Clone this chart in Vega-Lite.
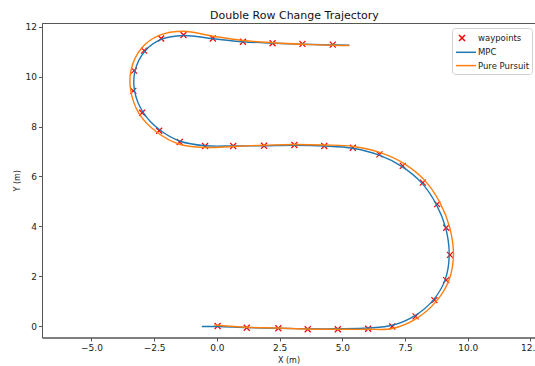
{
  "$schema": "https://vega.github.io/schema/vega-lite/v6.json",
  "width": 493,
  "height": 314.5,
  "autosize": {"type": "none"},
  "padding": {"left": 42, "top": 23, "right": 0, "bottom": 28.5},
  "background": "white",
  "title": {"text": "Double Row Change Trajectory", "font": "DejaVu Sans", "fontSize": 11, "fontWeight": "normal", "color": "#111", "anchor": "middle", "baseline": "alphabetic", "offset": -7, "dx": 6},
  "config": {
    "view": {"stroke": "#555", "strokeWidth": 1},
    "axis": {"grid": false, "labelFont": "DejaVu Sans", "labelFontSize": 9, "labelColor": "#222", "titleFont": "DejaVu Sans", "titleFontSize": 8, "titleFontWeight": "normal", "titleColor": "#222", "domainColor": "#555", "tickColor": "#555", "tickSize": 3.5, "labelPadding": 2, "titlePadding": 4}
  },
  "datasets": {
    "wp": [
      {"x": 0.03, "y": 0.0}, {"x": 1.19, "y": -0.07}, {"x": 2.45, "y": -0.09}, {"x": 3.62, "y": -0.13}, {"x": 4.82, "y": -0.13},
      {"x": 6.03, "y": -0.11}, {"x": 6.99, "y": -0.02}, {"x": 7.92, "y": 0.39}, {"x": 8.67, "y": 1.04}, {"x": 9.14, "y": 1.84},
      {"x": 9.29, "y": 2.85}, {"x": 9.14, "y": 3.94}, {"x": 8.78, "y": 4.89}, {"x": 8.21, "y": 5.75}, {"x": 7.41, "y": 6.42},
      {"x": 6.48, "y": 6.88}, {"x": 5.42, "y": 7.15}, {"x": 4.28, "y": 7.22}, {"x": 3.09, "y": 7.26}, {"x": 1.88, "y": 7.23},
      {"x": 0.65, "y": 7.22}, {"x": -0.47, "y": 7.22}, {"x": -1.48, "y": 7.38}, {"x": -2.3, "y": 7.83}, {"x": -2.98, "y": 8.55},
      {"x": -3.33, "y": 9.43}, {"x": -3.3, "y": 10.24}, {"x": -2.9, "y": 11.04}, {"x": -2.22, "y": 11.53}, {"x": -1.33, "y": 11.67},
      {"x": -0.16, "y": 11.53}, {"x": 1.04, "y": 11.4}, {"x": 2.22, "y": 11.34}, {"x": 3.41, "y": 11.31}, {"x": 4.62, "y": 11.28}
    ],
    "paths": [
      {"s": "MPC", "i": 0, "x": -0.6, "y": -0.02}, {"s": "MPC", "i": 1, "x": 0.03, "y": -0.02}, {"s": "MPC", "i": 2, "x": 1.19, "y": -0.06},
      {"s": "MPC", "i": 3, "x": 2.45, "y": -0.09}, {"s": "MPC", "i": 4, "x": 3.62, "y": -0.11}, {"s": "MPC", "i": 5, "x": 4.82, "y": -0.11},
      {"s": "MPC", "i": 6, "x": 6.03, "y": -0.08}, {"s": "MPC", "i": 7, "x": 6.99, "y": 0.03}, {"s": "MPC", "i": 8, "x": 7.9, "y": 0.42},
      {"s": "MPC", "i": 9, "x": 8.64, "y": 1.06}, {"s": "MPC", "i": 10, "x": 9.1, "y": 1.86}, {"s": "MPC", "i": 11, "x": 9.26, "y": 2.85},
      {"s": "MPC", "i": 12, "x": 9.12, "y": 3.93}, {"s": "MPC", "i": 13, "x": 8.75, "y": 4.87}, {"s": "MPC", "i": 14, "x": 8.18, "y": 5.72},
      {"s": "MPC", "i": 15, "x": 7.38, "y": 6.39}, {"s": "MPC", "i": 16, "x": 6.45, "y": 6.86}, {"s": "MPC", "i": 17, "x": 5.42, "y": 7.13},
      {"s": "MPC", "i": 18, "x": 4.28, "y": 7.22}, {"s": "MPC", "i": 19, "x": 3.09, "y": 7.25}, {"s": "MPC", "i": 20, "x": 1.88, "y": 7.23},
      {"s": "MPC", "i": 21, "x": 0.65, "y": 7.22}, {"s": "MPC", "i": 22, "x": -0.47, "y": 7.23}, {"s": "MPC", "i": 23, "x": -1.46, "y": 7.41},
      {"s": "MPC", "i": 24, "x": -2.27, "y": 7.86}, {"s": "MPC", "i": 25, "x": -2.94, "y": 8.57}, {"s": "MPC", "i": 26, "x": -3.28, "y": 9.43},
      {"s": "MPC", "i": 27, "x": -3.26, "y": 10.24}, {"s": "MPC", "i": 28, "x": -2.87, "y": 11.02}, {"s": "MPC", "i": 29, "x": -2.2, "y": 11.5},
      {"s": "MPC", "i": 30, "x": -1.33, "y": 11.65}, {"s": "MPC", "i": 31, "x": -0.16, "y": 11.52}, {"s": "MPC", "i": 32, "x": 1.04, "y": 11.4},
      {"s": "MPC", "i": 33, "x": 2.22, "y": 11.34}, {"s": "MPC", "i": 34, "x": 3.41, "y": 11.3}, {"s": "MPC", "i": 35, "x": 4.62, "y": 11.27},
      {"s": "MPC", "i": 36, "x": 5.28, "y": 11.26},
      {"s": "Pure Pursuit", "i": 0, "x": -0.1, "y": 0.05}, {"s": "Pure Pursuit", "i": 1, "x": 0.03, "y": 0.03}, {"s": "Pure Pursuit", "i": 2, "x": 1.19, "y": -0.05},
      {"s": "Pure Pursuit", "i": 3, "x": 2.45, "y": -0.08}, {"s": "Pure Pursuit", "i": 4, "x": 3.62, "y": -0.12}, {"s": "Pure Pursuit", "i": 5, "x": 4.82, "y": -0.13},
      {"s": "Pure Pursuit", "i": 6, "x": 6.03, "y": -0.13}, {"s": "Pure Pursuit", "i": 7, "x": 6.99, "y": -0.1}, {"s": "Pure Pursuit", "i": 8, "x": 7.95, "y": 0.3},
      {"s": "Pure Pursuit", "i": 9, "x": 8.75, "y": 1.0}, {"s": "Pure Pursuit", "i": 10, "x": 9.25, "y": 1.84}, {"s": "Pure Pursuit", "i": 11, "x": 9.43, "y": 2.85},
      {"s": "Pure Pursuit", "i": 12, "x": 9.28, "y": 3.95}, {"s": "Pure Pursuit", "i": 13, "x": 8.9, "y": 4.93}, {"s": "Pure Pursuit", "i": 14, "x": 8.3, "y": 5.82},
      {"s": "Pure Pursuit", "i": 15, "x": 7.48, "y": 6.5}, {"s": "Pure Pursuit", "i": 16, "x": 6.52, "y": 6.95}, {"s": "Pure Pursuit", "i": 17, "x": 5.45, "y": 7.2},
      {"s": "Pure Pursuit", "i": 18, "x": 4.28, "y": 7.26}, {"s": "Pure Pursuit", "i": 19, "x": 3.09, "y": 7.28}, {"s": "Pure Pursuit", "i": 20, "x": 1.88, "y": 7.25},
      {"s": "Pure Pursuit", "i": 21, "x": 0.65, "y": 7.2}, {"s": "Pure Pursuit", "i": 22, "x": -0.47, "y": 7.16}, {"s": "Pure Pursuit", "i": 23, "x": -1.52, "y": 7.3},
      {"s": "Pure Pursuit", "i": 24, "x": -2.4, "y": 7.78}, {"s": "Pure Pursuit", "i": 25, "x": -3.1, "y": 8.52}, {"s": "Pure Pursuit", "i": 26, "x": -3.43, "y": 9.43},
      {"s": "Pure Pursuit", "i": 27, "x": -3.42, "y": 10.27}, {"s": "Pure Pursuit", "i": 28, "x": -3.02, "y": 11.12}, {"s": "Pure Pursuit", "i": 29, "x": -2.3, "y": 11.65},
      {"s": "Pure Pursuit", "i": 30, "x": -1.33, "y": 11.82}, {"s": "Pure Pursuit", "i": 31, "x": -0.16, "y": 11.62}, {"s": "Pure Pursuit", "i": 32, "x": 1.04, "y": 11.45},
      {"s": "Pure Pursuit", "i": 33, "x": 2.22, "y": 11.36}, {"s": "Pure Pursuit", "i": 34, "x": 3.41, "y": 11.3}, {"s": "Pure Pursuit", "i": 35, "x": 4.62, "y": 11.26},
      {"s": "Pure Pursuit", "i": 36, "x": 5.28, "y": 11.25}
    ]
  },
  "layer": [
    {
      "data": {"name": "wp"},
      "transform": [{"calculate": "'waypoints'", "as": "s"}],
      "mark": {"type": "point", "filled": false, "size": 144, "strokeWidth": 1.2, "opacity": 1},
      "encoding": {
        "x": {"field": "x", "type": "quantitative", "scale": {"domain": [-6.97, 12.68], "nice": false, "zero": false}, "axis": {"values": [-5, -2.5, 0, 2.5, 5, 7.5, 10, 12.5], "format": ".1f", "title": "X (m)"}},
        "y": {"field": "y", "type": "quantitative", "scale": {"domain": [-0.46, 12.15], "nice": false, "zero": false}, "axis": {"values": [0, 2, 4, 6, 8, 10, 12], "title": "Y (m)"}},
        "shape": {"field": "s", "type": "nominal", "scale": {"domain": ["waypoints", "MPC", "Pure Pursuit"], "range": ["M-0.5,-0.5L0.5,0.5M0.5,-0.5L-0.5,0.5", "M-1,0L2.33,0", "M-1,0L2.33,0"]},
          "legend": {"title": null, "orient": "none", "legendX": 410, "legendY": 5, "direction": "vertical", "padding": 3, "strokeColor": "#d0d0d0", "fillColor": "white", "cornerRadius": 3, "labelFont": "DejaVu Sans", "labelFontSize": 8.5, "labelColor": "#222", "symbolSize": 144, "symbolStrokeWidth": 1.5, "labelOffset": 9, "rowPadding": 1.3}},
        "color": {"field": "s", "type": "nominal", "scale": {"domain": ["waypoints", "MPC", "Pure Pursuit"], "range": ["#ff0000", "#1f77b4", "#ff7f0e"]},
          "legend": {"title": null, "orient": "none", "legendX": 410, "legendY": 5, "direction": "vertical", "padding": 3, "strokeColor": "#d0d0d0", "fillColor": "white", "cornerRadius": 3, "labelFont": "DejaVu Sans", "labelFontSize": 8.5, "labelColor": "#222", "symbolSize": 144, "symbolStrokeWidth": 1.5, "labelOffset": 9, "rowPadding": 1.3}}
      }
    },
    {
      "data": {"name": "paths"},
      "transform": [{"filter": "datum.s === 'MPC'"}],
      "mark": {"type": "line", "strokeWidth": 1.4, "interpolate": "catmull-rom"},
      "encoding": {
        "x": {"field": "x", "type": "quantitative"},
        "y": {"field": "y", "type": "quantitative"},
        "order": {"field": "i", "type": "quantitative"},
        "color": {"field": "s", "type": "nominal"}
      }
    },
    {
      "data": {"name": "paths"},
      "transform": [{"filter": "datum.s === 'Pure Pursuit'"}],
      "mark": {"type": "line", "strokeWidth": 1.4, "interpolate": "catmull-rom"},
      "encoding": {
        "x": {"field": "x", "type": "quantitative"},
        "y": {"field": "y", "type": "quantitative"},
        "order": {"field": "i", "type": "quantitative"},
        "color": {"field": "s", "type": "nominal"}
      }
    }
  ]
}
